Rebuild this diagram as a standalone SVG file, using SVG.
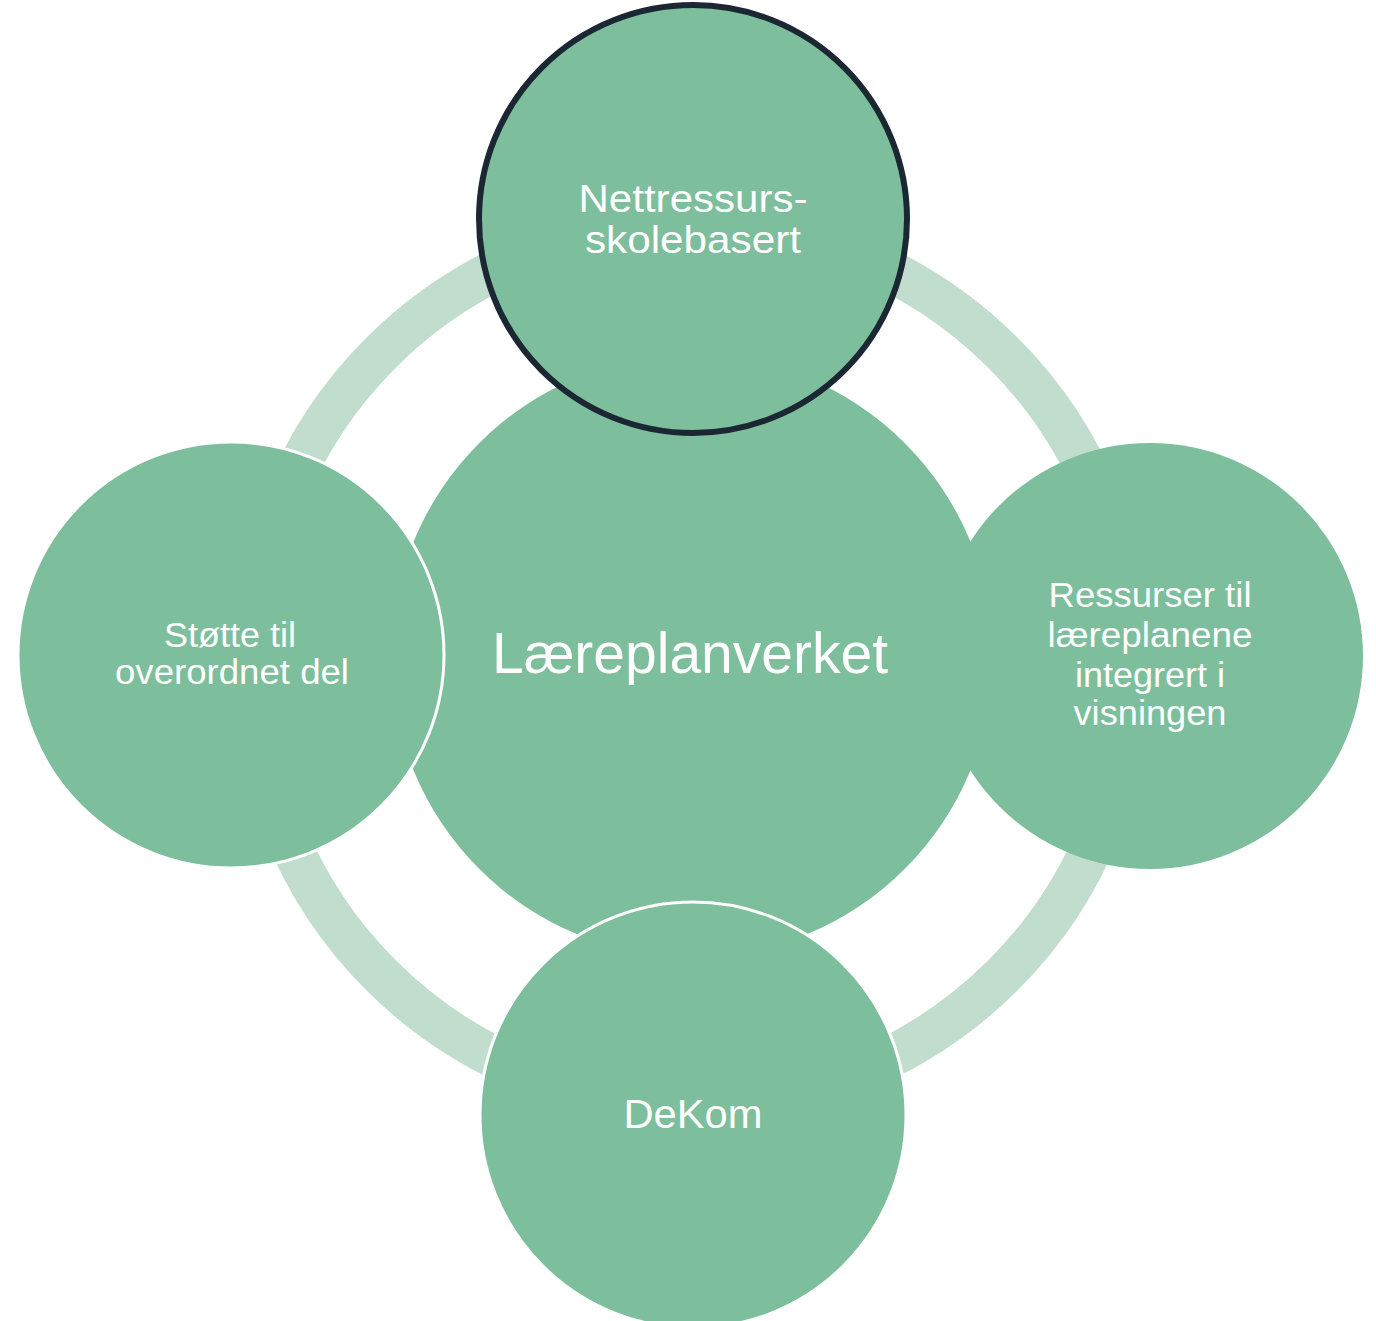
<svg xmlns="http://www.w3.org/2000/svg" width="1376" height="1321" viewBox="0 0 1376 1321">
<style>
.node{fill:#7dbe9c}
.lbl{fill:#ffffff;font-family:"Liberation Sans",Arial,sans-serif;text-anchor:middle}
</style>
<rect width="1376" height="1321" fill="#ffffff"/>
<g id="connectors">
<circle cx="692" cy="664" r="440" fill="none" stroke="#c0ddcd" stroke-width="42"/>
</g>
<g id="node-right">
<circle class="node" cx="1150" cy="656" r="213"/>
<text class="lbl" font-size="35"><tspan x="1150" y="607" textLength="203" lengthAdjust="spacingAndGlyphs">Ressurser til</tspan><tspan x="1150" y="647" textLength="205" lengthAdjust="spacingAndGlyphs">læreplanene</tspan><tspan x="1150" y="686.5" textLength="150" lengthAdjust="spacingAndGlyphs">integrert i</tspan><tspan x="1150" y="725" textLength="153" lengthAdjust="spacingAndGlyphs">visningen</tspan></text>
</g>
<g id="node-center">
<circle class="node" cx="692" cy="656" r="301"/>
<text class="lbl" font-size="57" x="690" y="673">Læreplanverket</text>
</g>
<g id="node-top">
<circle class="node" cx="693" cy="219" r="214" stroke="#1b2834" stroke-width="6"/>
<text class="lbl" font-size="39"><tspan x="693" y="212" textLength="229" lengthAdjust="spacingAndGlyphs">Nettressurs-</tspan><tspan x="693" y="253" textLength="216" lengthAdjust="spacingAndGlyphs">skolebasert</tspan></text>
</g>
<g id="node-left">
<circle class="node" cx="231" cy="655" r="213" stroke="#ffffff" stroke-width="3"/>
<text class="lbl" font-size="35"><tspan x="230" y="647" textLength="132" lengthAdjust="spacingAndGlyphs">Støtte til</tspan><tspan x="232" y="684" textLength="234" lengthAdjust="spacingAndGlyphs">overordnet del</tspan></text>
</g>
<g id="node-bottom">
<circle class="node" cx="693" cy="1115" r="213" stroke="#ffffff" stroke-width="3"/>
<text class="lbl" font-size="40" x="693" y="1128" textLength="139" lengthAdjust="spacingAndGlyphs">DeKom</text>
</g>
</svg>
